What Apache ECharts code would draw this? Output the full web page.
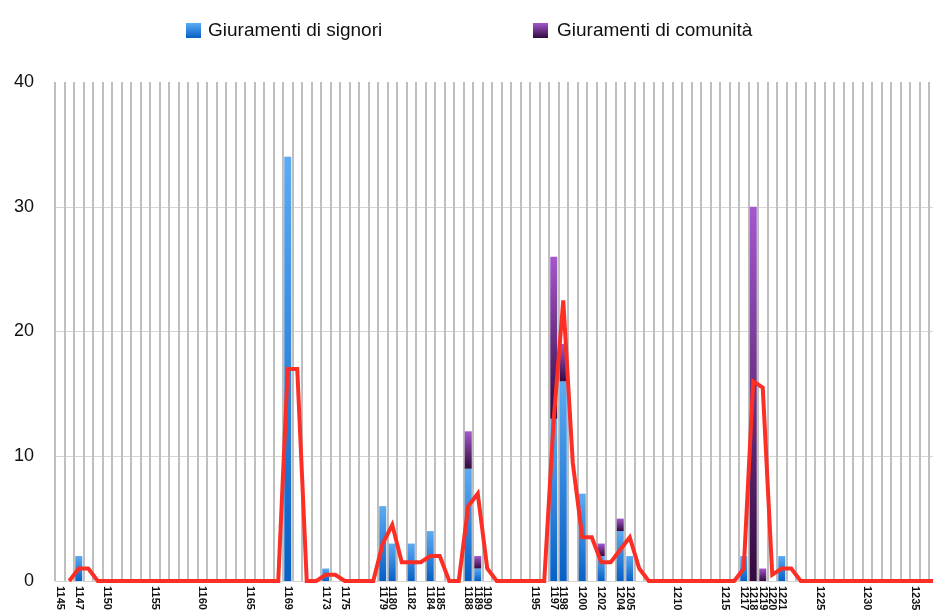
<!DOCTYPE html>
<html lang="it">

<head>
  <meta charset="UTF-8">
  <title>Giuramenti</title>
  <script src="https://cdn.jsdelivr.net/npm/echarts@6/dist/echarts.min.js"></script>
  <style>
    body { margin: 0; background: #fff; }
  </style>
</head>

<body>
  <div id="main" style="width: 933px;height:610px"></div>
  <script>
    // anni 1145 - 1237, uno per categoria
    var firstYear = 1145
    var lastYear = 1237
    // anni con etichetta sull'asse x
    var labelYears = [1145, 1147, 1150, 1155, 1160, 1165, 1169, 1173, 1175, 1179, 1180, 1182, 1184, 1185,
      1188, 1189, 1190, 1195, 1197, 1198, 1200, 1202, 1204, 1205, 1210, 1215, 1217, 1218, 1219, 1220,
      1221, 1225, 1230, 1235]

    // giuramenti di signori (anni con valore)
    var signoriYears = [1147, 1169, 1173, 1179, 1180, 1182, 1184, 1188, 1189, 1197, 1198, 1200, 1202, 1204, 1205, 1217, 1221]
    var signoriValues = [2, 34, 1, 6, 3, 3, 4, 9, 1, 13, 16, 7, 2, 4, 2, 2, 2]

    // giuramenti di comunità
    var comunitaYears = [1188, 1189, 1197, 1198, 1202, 1204, 1218, 1219]
    var comunitaValues = [3, 1, 13, 3, 1, 1, 30, 1]

    // linea rossa (media mobile); gli altri anni sono 0
    var trendYears = [1147, 1148, 1169, 1170, 1173, 1174, 1179, 1180, 1181, 1182, 1183, 1184, 1185, 1188, 1189, 1190,
      1197, 1198, 1199, 1200, 1201, 1202, 1203, 1204, 1205, 1206, 1217, 1218, 1219, 1220, 1221, 1222]
    var trendValues = [1, 1, 17, 17, 0.5, 0.5, 3, 4.5, 1.5, 1.5, 1.5, 2, 2, 6, 7, 1,
      13, 22.5, 9.5, 3.5, 3.5, 1.5, 1.5, 2.5, 3.5, 1, 1, 16, 15.5, 0.5, 1, 1]

    var years = []
    for (var y = firstYear; y <= lastYear; y++) {
      years.push(String(y))
    }

    function fill(ys, vs, empty) {
      var out = []
      for (var i = 0; i < years.length; i++) {
        var k = ys.indexOf(Number(years[i]))
        out.push(k >= 0 ? vs[k] : empty)
      }
      return out
    }

    var signori = fill(signoriYears, signoriValues, 0)
    var comunita = fill(comunitaYears, comunitaValues, 0)
    var trend = fill(trendYears, trendValues, 0)
    trend[0] = '-' // la media parte dal secondo anno

    var blue = new echarts.graphic.LinearGradient(0, 0, 0, 1, [
      { offset: 0, color: '#5cabf2' },
      { offset: 1, color: '#0760c6' }
    ])
    var purple = new echarts.graphic.LinearGradient(0, 0, 0, 1, [
      { offset: 0, color: '#a458cc' },
      { offset: 1, color: '#33093f' }
    ])

    var font = '"Liberation Sans", Arial, Helvetica, sans-serif'

    var mCharts = echarts.init(document.getElementById('main'))
    var option = {
      animation: false,
      textStyle: { fontFamily: font },
      legend: [
        {
          left: 181, top: 16,
          itemWidth: 15, itemHeight: 15,
          icon: 'rect',
          data: ['Giuramenti di signori'],
          textStyle: { fontSize: 19, color: '#111', fontFamily: font, padding: [0, 0, 0, 2] }
        },
        {
          left: 528, top: 16,
          itemWidth: 15, itemHeight: 15,
          icon: 'rect',
          data: ['Giuramenti di comunità'],
          textStyle: { fontSize: 19, color: '#111', fontFamily: font, padding: [0, 0, 0, 4] }
        }
      ],
      grid: { left: 55, width: 883.5, top: 82, bottom: 29, containLabel: false, outerBoundsMode: 'none' },
      xAxis: {
        type: 'category',
        data: years,
        axisLine: { show: false },
        axisTick: { show: false },
        splitLine: {
          show: true,
          interval: 0,
          lineStyle: { color: '#bfbfbf', width: 2 }
        },
        axisLabel: {
          rotate: -90,
          margin: 5,
          fontSize: 11,
          fontWeight: 'bold',
          color: '#111',
          interval: function (index, value) {
            return labelYears.indexOf(Number(value)) >= 0
          }
        }
      },
      yAxis: {
        type: 'value',
        min: 0,
        max: 40,
        interval: 10,
        axisLine: { show: false },
        axisTick: { show: false },
        splitLine: {
          lineStyle: { color: ['#d4d4d4', '#d4d4d4', '#d4d4d4', '#d4d4d4', 'rgba(0,0,0,0)'], width: 1 }
        },
        axisLabel: { fontSize: 18, color: '#111', margin: 21 }
      },
      series: [
        {
          name: 'Giuramenti di signori',
          type: 'bar',
          stack: 'tot',
          barWidth: 7,
          data: signori,
          itemStyle: { color: blue }
        },
        {
          name: 'Giuramenti di comunità',
          type: 'bar',
          stack: 'tot',
          barWidth: 7,
          data: comunita,
          itemStyle: { color: purple }
        },
        {
          name: 'media',
          type: 'line',
          data: trend,
          symbol: 'none',
          z: 5,
          lineStyle: { color: '#fb2f25', width: 4, join: 'miter' }
        }
      ]
    }
    mCharts.setOption(option)
  </script>
</body>

</html>
